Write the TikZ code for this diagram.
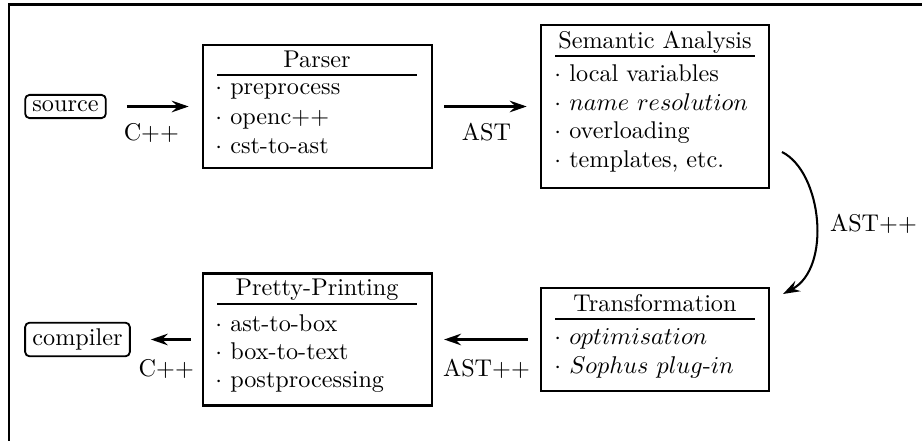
\documentclass[tikz,border=0pt]{standalone}
\usetikzlibrary{arrows.meta}
\begin{document}
\begin{tikzpicture}[x=0.413pt,y=-0.413pt,
  stagebox/.style={draw,line width=1pt,inner sep=0pt},
  term/.style={draw,line width=0.75pt,rounded corners=1.8pt,inner xsep=3pt,inner ysep=2.5pt},
  ttl/.style={anchor=base,inner sep=0pt},
  itm/.style={anchor=base west,inner sep=0pt},
  titlerule/.style={line width=1pt},
  arr/.style={line width=0.85pt,-{Stealth[length=7pt,width=4.8pt,inset=2.4pt]}},
  lbl/.style={inner sep=1pt},
  frameline/.style={line width=1pt}]
\useasboundingbox (0,0) rectangle (922,441);
\draw[frameline] (9,441) -- (9,4.5) -- (922,4.5);

% terminals
\node[term] (source) at (65.5,106.5) {source};
\node[term] (compiler) at (77.5,339.5) {compiler};

% Parser
\node[stagebox,minimum width=94.6pt,minimum height=50.8pt] (parser) at (317.5,106.5) {};
\node[ttl] (parsertitle) at (317,67) {Parser};
\draw[titlerule] (217,75) -- (417,75);
\node[itm] (p1) at (215,95) {$\cdot$ preprocess};
\node[itm] (p2) at (215,124) {$\cdot$ openc++};
\node[itm] (p3) at (215,153) {$\cdot$ cst-to-ast};

% Semantic Analysis
\node[stagebox,minimum width=94.2pt,minimum height=67.3pt] (sem) at (655,106.5) {};
\node[ttl] (semtitle) at (655,48) {Semantic Analysis};
\draw[titlerule] (555,56) -- (755,56);
\node[itm] (s1) at (554,82) {$\cdot$ local variables};
\node[itm] (s2) at (554,110) {$\cdot$ $name\ resolution$};
\node[itm] (s3) at (554,139) {$\cdot$ overloading};
\node[itm] (s4) at (554,167) {$\cdot$ templates, etc.};

% Transformation
\node[stagebox,minimum width=94.2pt,minimum height=42.5pt] (trans) at (655,339.5) {};
\node[ttl] (transtitle) at (655,311) {Transformation};
\draw[titlerule] (555,319) -- (755,319);
\node[itm] (t1) at (554,344) {$\cdot$ $optimisation$};
\node[itm] (t2) at (554,373) {$\cdot$ $Sophus\ plug\mbox{-}in$};

% Pretty-Printing
\node[stagebox,minimum width=94.6pt,minimum height=54.5pt] (pretty) at (317.5,339.5) {};
\node[ttl] (prettytitle) at (317,295) {Pretty-Printing};
\draw[titlerule] (217,304) -- (417,304);
\node[itm] (q1) at (215,331) {$\cdot$ ast-to-box};
\node[itm] (q2) at (215,359) {$\cdot$ box-to-text};
\node[itm] (q3) at (215,387) {$\cdot$ postprocessing};

% connectors
\draw[arr,shorten <=8.3pt,shorten >=5.4pt] (source) -- (parser)
  node[lbl,midway,below=5.5pt,xshift=-1.2pt] {C++};
\draw[arr,shorten <=4.5pt,shorten >=5.4pt] (parser) -- (sem)
  node[lbl,midway,below=5.5pt] {AST};
\coordinate (cs) at (782,152);
\coordinate (ce) at (783,294);
\draw[arr] (cs) .. controls (822,172) and (832,268) .. (ce);
\node[lbl] (astpp) at (873.5,224) {AST++};
\draw[arr,shorten <=5pt,shorten >=4.5pt] (trans) -- (pretty)
  node[lbl,midway,below=6.8pt] {AST++};
\draw[arr,shorten <=4.5pt,shorten >=8.3pt] (pretty) -- (compiler)
  node[lbl,midway,below=6.8pt] {C++};
\end{tikzpicture}
\end{document}
